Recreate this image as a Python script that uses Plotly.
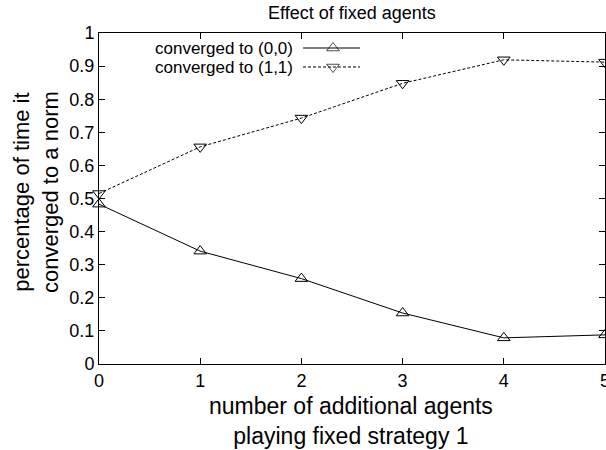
import plotly.graph_objects as go

agents = [0, 1, 2, 3, 4, 5]
conv00 = [0.483, 0.341, 0.258, 0.154, 0.079, 0.088]
conv11 = [0.515, 0.656, 0.743, 0.848, 0.919, 0.912]
series_names = ["converged to (0,0)", "converged to (1,1)"]
yticks = [0, 0.1, 0.2, 0.3, 0.4, 0.5, 0.6, 0.7, 0.8, 0.9, 1]
ytick_labels = ["0", "0.1", "0.2", "0.3", "0.4", "0.5", "0.6", "0.7", "0.8", "0.9", "1"]

W, H = 606, 450
L, R, T, B = 99, 1, 33, 86
FONT = "Liberation Sans, Arial, Helvetica, sans-serif"

fig = go.Figure()
fig.add_trace(go.Scatter(
    x=agents, y=conv00, mode="lines+markers",
    line=dict(color="black", width=1),
    marker=dict(symbol="triangle-up-open", size=11, color="black", line=dict(width=1)),
    showlegend=False, cliponaxis=False))
fig.add_trace(go.Scatter(
    x=agents, y=conv11, mode="lines+markers",
    line=dict(color="black", width=1, dash="3px,2px"),
    marker=dict(symbol="triangle-down-open", size=11, color="black", line=dict(width=1)),
    showlegend=False, cliponaxis=False))

# gnuplot-style key: text on left, sample on right (pixel-coordinate overlay axes)
key_rows = [48, 67]
key_styles = [("triangle-up-open", "solid"), ("triangle-down-open", "3px,2px")]
for name, yrow, (sym, dash) in zip(series_names, key_rows, key_styles):
    fig.add_trace(go.Scatter(
        x=[303, 333, 360], y=[yrow, yrow, yrow], mode="lines+markers",
        xaxis="x2", yaxis="y2",
        line=dict(color="black", width=1, dash=dash),
        marker=dict(symbol=sym, size=[0, 11, 0], color="black", line=dict(width=1)),
        showlegend=False, hoverinfo="skip"))
    fig.add_annotation(x=295, y=yrow, xref="x2", yref="y2", text=name,
                       showarrow=False, xanchor="right", yanchor="middle",
                       font=dict(size=17, family=FONT, color="black"))

pw = W - L - R
ph = H - T - B
def px(x):
    return (x - L) / pw
def py(y):
    return (H - B - y) / ph

fig.add_annotation(x=px(352), y=py(13), xref="paper", yref="paper",
                   text="Effect of fixed agents", showarrow=False,
                   xanchor="center", yanchor="middle",
                   font=dict(size=18, family=FONT, color="black"))
fig.add_annotation(x=px(351), y=py(421), xref="paper", yref="paper",
                   text="number of additional agents<br>playing fixed strategy 1",
                   showarrow=False, xanchor="center", yanchor="middle",
                   font=dict(size=23, family=FONT, color="black"))
fig.add_annotation(x=px(36), y=py(192), xref="paper", yref="paper",
                   text="percentage of time it<br>converged to a norm",
                   showarrow=False, xanchor="center", yanchor="middle", textangle=-90,
                   font=dict(size=22, family=FONT, color="black"))

axis_common = dict(showline=True, linecolor="black", linewidth=1, mirror="ticks",
                   ticks="inside", ticklen=6, tickcolor="black", tickwidth=1,
                   showgrid=False, zeroline=False, ticklabeloverflow="allow",
                   tickfont=dict(size=18, family=FONT, color="black"))
fig.update_layout(
    width=W, height=H,
    margin=dict(l=L, r=R, t=T, b=B, autoexpand=False),
    paper_bgcolor="white", plot_bgcolor="white",
    xaxis=dict(range=[0, 5], tickvals=agents, ticktext=[str(a) for a in agents], **axis_common),
    yaxis=dict(range=[0, 1], tickvals=yticks, ticktext=ytick_labels, **axis_common),
    xaxis2=dict(range=[L, W - R], overlaying="x", visible=False, fixedrange=True),
    yaxis2=dict(range=[H - B, T], overlaying="y", visible=False, fixedrange=True),
    font=dict(family=FONT, color="black"),
)
fig.write_html("out.html")
